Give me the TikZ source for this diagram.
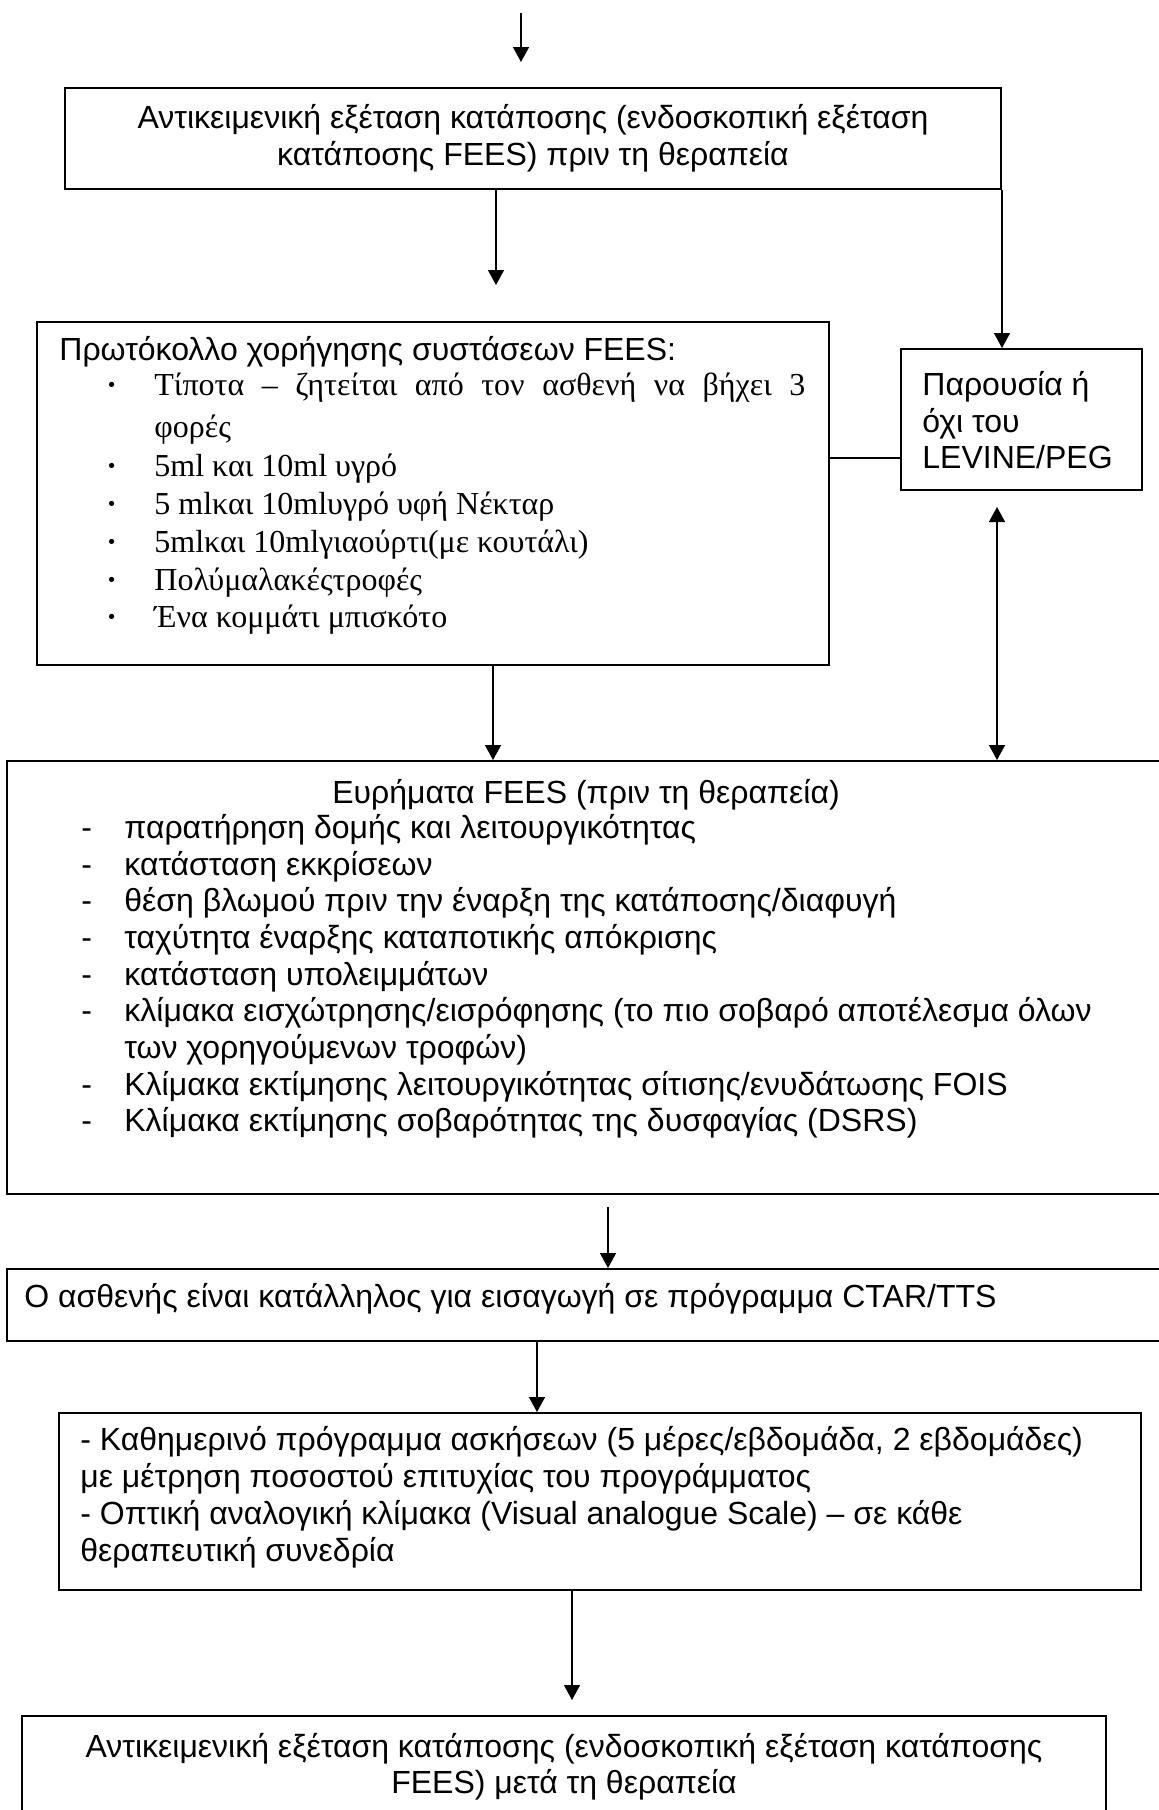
\documentclass[tikz,border=0pt]{standalone}
\usepackage{fontspec}
\setmainfont{Liberation Sans}
\newfontfamily\timesfont{Liberation Serif}
\usetikzlibrary{arrows.meta,fit}
\tikzset{
  box/.style={draw, line width=1pt, inner sep=0pt},
  conn/.style={line width=0.75pt},
  arr/.style={conn, -{Triangle[length=7.5pt,width=8pt]}},
  darr/.style={conn, {Triangle[length=7.5pt,width=8pt]}-{Triangle[length=7.5pt,width=8pt]}},
  txt/.style={inner sep=0pt, anchor=base west, font=\fontsize{16}{18}\selectfont},
  ctxt/.style={inner sep=0pt, anchor=base, font=\fontsize{16}{18}\selectfont},
  stxt/.style={inner sep=0pt, anchor=base west, font=\timesfont\fontsize{16}{18}\selectfont},
  bul/.style={inner sep=0pt, anchor=base west, font=\timesfont\bfseries\fontsize{16}{18}\selectfont}
}
\begin{document}
\begin{tikzpicture}[x=0.5pt,y=-0.5pt]
\useasboundingbox[fill=white] (0,0) rectangle (1158,1810);

% boxes
\node[box, fit={(65,88) (1001,189)}] (box1) {};
\node[box, fit={(37,322) (829,665)}] (proto) {};
\node[box, fit={(901,349) (1142,490)}] (par) {};
\node[box, fit={(7,761) (1170,1194)}] (find) {};
\node[box, fit={(7,1269) (1170,1341)}] (ctar) {};
\node[box, fit={(59,1413) (1141,1590)}] (exer) {};
\node[box, fit={(22,1716) (1106,1860)}] (final) {};

% box 1 text
\node[ctxt] (b1a) at (533,128) {Αντικειμενική εξέταση κατάποσης (ενδοσκοπική εξέταση};
\node[ctxt] (b1b) at (533,165) {κατάποσης FEES) πριν τη θεραπεία};

% protocol text
\node[txt] (pt) at (59,360) {Πρωτόκολλο χορήγησης συστάσεων FEES:};
\node[bul] (pb1) at (106,395) {·};
\node[bul] (pb2) at (106,476) {·};
\node[bul] (pb3) at (106,514) {·};
\node[bul] (pb4) at (106,552) {·};
\node[bul] (pb5) at (106,590) {·};
\node[bul] (pb6) at (106,627) {·};
\node[stxt] (p1) at (154,395) {\makebox[325.5pt][s]{Τίποτα – ζητείται από τον ασθενή να βήχει 3}};
\node[stxt] (p1b) at (154,437) {φορές};
\node[stxt] (p2) at (154,476) {5ml και 10ml υγρό};
\node[stxt] (p3) at (154,514) {5 mlκαι 10mlυγρό υφή Νέκταρ};
\node[stxt] (p4) at (154,552) {5mlκαι 10mlγιαούρτι(με κουτάλι)};
\node[stxt] (p5) at (154,590) {Πολύμαλακέςτροφές};
\node[stxt] (p6) at (154,627) {Ένα κομμάτι μπισκότο};

% presence box text
\node[txt] (pa1) at (922,395) {Παρουσία ή};
\node[txt] (pa2) at (922,432) {όχι του};
\node[txt] (pa3) at (922,468) {LEVINE/PEG};

% findings text
\node[ctxt] (ft) at (586,803) {Ευρήματα FEES (πριν τη θεραπεία)};
\foreach \yy [count=\i] in {838,875,911,948,985,1021,1095,1131}
  \node[txt] (fd\i) at (81,\yy) {-};
\node[txt] (f1) at (124,838) {παρατήρηση δομής και λειτουργικότητας};
\node[txt] (f2) at (124,875) {κατάσταση εκκρίσεων};
\node[txt] (f3) at (124,911) {θέση βλωμού πριν την έναρξη της κατάποσης/διαφυγή};
\node[txt] (f4) at (124,948) {ταχύτητα έναρξης καταποτικής απόκρισης};
\node[txt] (f5) at (124,985) {κατάσταση υπολειμμάτων};
\node[txt] (f6) at (124,1021) {κλίμακα εισχώτρησης/εισρόφησης (το πιο σοβαρό αποτέλεσμα όλων};
\node[txt] (f6b) at (124,1058) {των χορηγούμενων τροφών)};
\node[txt] (f7) at (124,1095) {Κλίμακα εκτίμησης λειτουργικότητας σίτισης/ενυδάτωσης FOIS};
\node[txt] (f8) at (124,1131) {Κλίμακα εκτίμησης σοβαρότητας της δυσφαγίας (DSRS)};

% CTAR text
\node[txt] (ct) at (24,1307) {Ο ασθενής είναι κατάλληλος για εισαγωγή σε πρόγραμμα CTAR/TTS};

% exercise text
\node[txt] (e1) at (80,1450) {- Καθημερινό πρόγραμμα ασκήσεων (5 μέρες/εβδομάδα, 2 εβδομάδες)};
\node[txt] (e2) at (80,1487) {με μέτρηση ποσοστού επιτυχίας του προγράμματος};
\node[txt] (e3) at (80,1524) {- Οπτική αναλογική κλίμακα (Visual analogue Scale) – σε κάθε};
\node[txt] (e4) at (80,1561) {θεραπευτική συνεδρία};

% final text
\node[ctxt] (fi1) at (564,1757) {Αντικειμενική εξέταση κατάποσης (ενδοσκοπική εξέταση κατάποσης};
\node[ctxt] (fi2) at (564,1793) {FEES) μετά τη θεραπεία};

% free ends
\coordinate (top0) at (521,13);
\coordinate (top1) at (521,62);
\coordinate (a2) at (496,0);
\coordinate (a2e) at (496,285);
\coordinate (y4) at (0,458);
\coordinate (a5) at (997,507);
\coordinate (a6) at (493,0);
\coordinate (a7s) at (608,1207);
\coordinate (a8) at (537,0);
\coordinate (a9) at (572,0);
\coordinate (a9e) at (572,1700);

% connectors
\draw[arr] (top0) -- (top1);
\draw[arr] (box1.south -| a2) -- (a2e);
\draw[arr] (box1.south east) -- (box1.south east |- par.north);
\draw[conn] (proto.east |- y4) -- (par.west |- y4);
\draw[darr] (a5) -- (a5 |- find.north);
\draw[arr] (proto.south -| a6) -- (find.north -| a6);
\draw[arr] (a7s) -- (a7s |- ctar.north);
\draw[arr] (ctar.south -| a8) -- (exer.north -| a8);
\draw[arr] (exer.south -| a9) -- (a9e);
\end{tikzpicture}
\end{document}
